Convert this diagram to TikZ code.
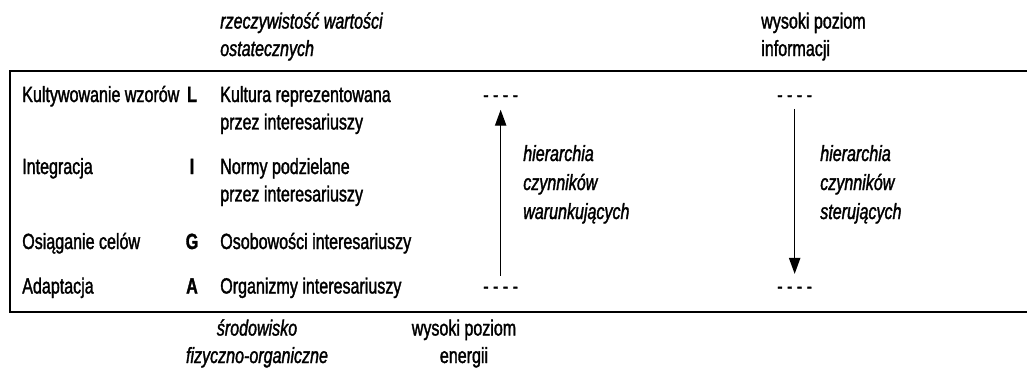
\documentclass[tikz,border=0pt]{standalone}
\usepackage{fontspec}
\setmainfont{Liberation Sans}[FakeStretch=0.73, FakeBold=1.5]
\usepackage{tikz}
\usetikzlibrary{arrows.meta}
\usetikzlibrary{positioning}

\tikzset{
    lbl/.style={anchor=base west, inner sep=0pt, align=left,
        font=\fontsize{16.5}{20.6}\selectfont},
    emph/.style={lbl, font=\fontsize{16.5}{20.6}\selectfont\itshape},
    code/.style={anchor=base, inner sep=0pt,
        font=\fontsize{16.5}{20.6}\selectfont\bfseries},
    mid/.style={lbl, anchor=base, align=center},
    two/.style={yshift=-20.6pt},
    frame/.style={line width=1.1pt},
    flow/.style={-{Triangle[length=12pt,width=8.5pt]}, line width=1pt},
}

\begin{document}
\begin{tikzpicture}[x=0.75pt, y=-0.75pt]

    \useasboundingbox (0,0) rectangle (1027,372);

    % Frame
    \draw[frame] (1027,71) -- (10,71) -- (10,312) -- (1027,312);

    % Columns
    \coordinate (colB) at (192,0);
    \coordinate (colC) at (220,0);
    \coordinate (colD) at (483,0);
    \coordinate (colE) at (777,0);

    % Functions
    \node[lbl] (pattern) at (22,102)   {Kultywowanie wzorów};
    \node[lbl] (integr)  at (22,174)   {Integracja};
    \node[lbl] (goal)    at (22,249)   {Osiąganie celów};
    \node[lbl] (adapt)   at (22,293.5) {Adaptacja};

    % Letters
    \node[code] (L) at (colB |- pattern.base) {L};
    \node[code] (I) at (colB |- integr.base)  {I};
    \node[code] (G) at (colB |- goal.base)    {G};
    \node[code] (A) at (colB |- adapt.base)   {A};

    % Subsystems
    \node[lbl, two] (culture)  at (colC |- pattern.base) {Kultura reprezentowana\\przez interesariuszy};
    \node[lbl, two] (norms)    at (colC |- integr.base)  {Normy podzielane\\przez interesariuszy};
    \node[lbl] (person)   at (colC |- goal.base)    {Osobowości interesariuszy};
    \node[lbl] (organism) at (colC |- adapt.base)   {Organizmy interesariuszy};

    % Outer labels
    \node[emph] (reality) at (220,56) {rzeczywistość wartości\\ostatecznych};
    \node[lbl]  (info)    at (761,56) {wysoki poziom\\informacji};
    \node[emph, anchor=base, align=center] (environ) at (257,363) {środowisko\\fizyczno-organiczne};
    \node[mid] (energy) at (464,363) {wysoki poziom\\energii};

    % Levels
    \node[lbl] (upL)  at (colD |- pattern.base) {- - - -};
    \node[lbl] (lowL) at (colD |- adapt.base)   {- - - -};
    \node[lbl] (upR)  at (colE |- pattern.base) {- - - -};
    \node[lbl] (lowR) at (colE |- adapt.base)   {- - - -};

    \draw[flow, shorten <=8pt, shorten >=5.6pt] (lowL.north) -- (upL.south);
    \draw[flow, shorten <=5pt, shorten >=9.5pt] (upR.south) -- (lowR.north);

    \node[emph, font=\fontsize{16.5}{21.75}\selectfont\itshape] (cond) at (523,219) {hierarchia\\czynników\\warunkujących};
    \node[emph, font=\fontsize{16.5}{21.75}\selectfont\itshape] (ctrl) at (820,219) {hierarchia\\czynników\\sterujących};

\end{tikzpicture}
\end{document}
